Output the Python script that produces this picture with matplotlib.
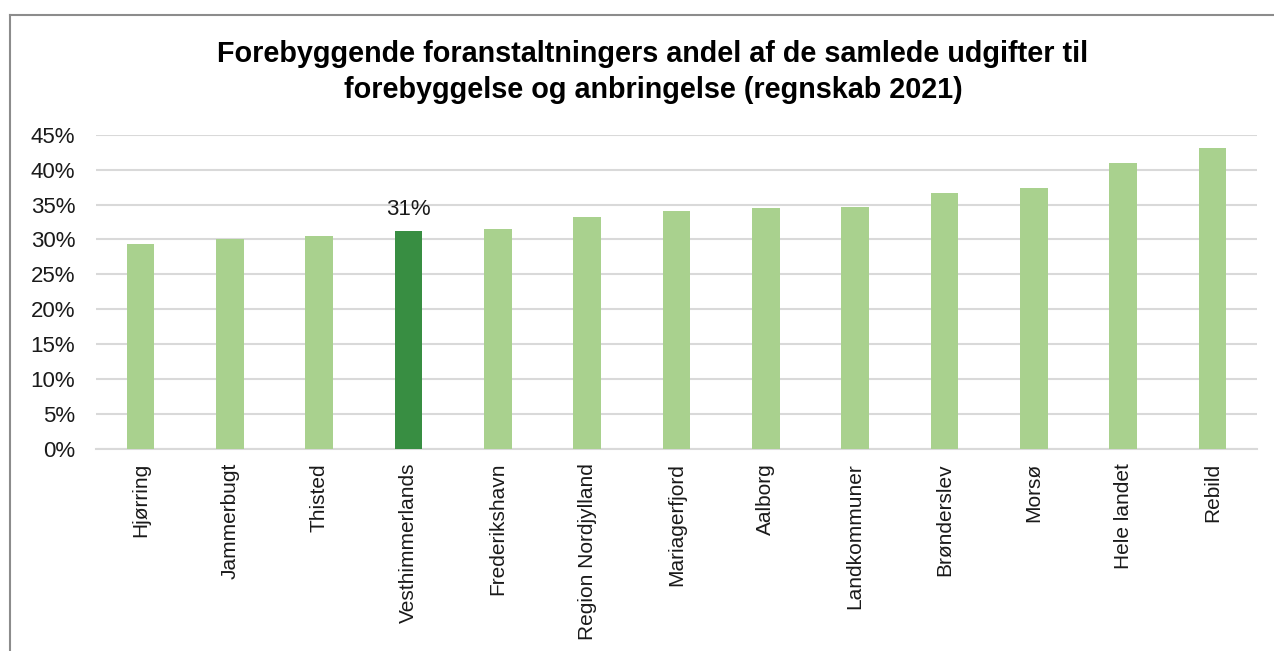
import matplotlib
matplotlib.use("Agg")
import matplotlib.pyplot as plt
from matplotlib.lines import Line2D
from matplotlib.ticker import FuncFormatter, MultipleLocator

categories = ["Hjørring", "Jammerbugt", "Thisted", "Vesthimmerlands", "Frederikshavn",
              "Region Nordjylland", "Mariagerfjord", "Aalborg", "Landkommuner",
              "Brønderslev", "Morsø", "Hele landet", "Rebild"]
values = [0.293, 0.301, 0.305, 0.312, 0.315, 0.332, 0.341, 0.345, 0.347,
          0.366, 0.373, 0.409, 0.431]
highlight = "Vesthimmerlands"
highlight_label = "31%"
title = "Forebyggende foranstaltningers andel af de samlede udgifter til\nforebyggelse og anbringelse (regnskab 2021)"

plt.rcParams['font.family'] = ['Liberation Sans', 'DejaVu Sans']

W, H = 1274, 651
fig = plt.figure(figsize=(W / 100, H / 100), dpi=100)
ax = fig.add_axes([96 / W, 1 - 449 / H, (1257 - 96) / W, (449 - 134.7) / H])

light = "#A9D18E"
dark = "#388E42"
colors = [dark if c == highlight else light for c in categories]
x = list(range(len(categories)))
bars = ax.bar(x, values, width=0.31, color=colors, zorder=3)

hi = categories.index(highlight)
ax.annotate(highlight_label, (hi, values[hi]), xytext=(0, 8), textcoords="offset points",
            ha="center", va="bottom", fontsize=16, color="#1a1a1a")

ax.set_xlim(-0.5, len(categories) - 0.5)
ax.set_ylim(0, 0.45)
ax.yaxis.set_major_locator(MultipleLocator(0.05))
ax.yaxis.set_major_formatter(FuncFormatter(lambda v, p: f"{v*100:.0f}%"))
ax.grid(axis="y", color="#D9D9D9", linewidth=1.5, zorder=0)
for s in ["top", "right", "left"]:
    ax.spines[s].set_visible(False)
ax.spines["bottom"].set_color("#D9D9D9")
ax.spines["bottom"].set_linewidth(1.5)
ax.tick_params(axis="y", length=0, labelsize=16, pad=15, labelcolor="#1a1a1a")
ax.tick_params(axis="x", length=0, labelsize=15, pad=10, labelcolor="#1a1a1a")
ax.set_xticks(x)
ax.set_xticklabels(categories, rotation=90, va="top", ha="center")

fig.text(653 / W, 1 - 72 / H, title, ha="center", va="center", fontsize=20.7,
         fontweight="bold", linespacing=1.4, color="black")

# outer frame (top and left visible)
fig.add_artist(Line2D([10 / W, 1], [1 - 15 / H, 1 - 15 / H], transform=fig.transFigure,
                      color="#8C8C8C", linewidth=1.5))
fig.add_artist(Line2D([10 / W, 10 / W], [0, 1 - 15 / H], transform=fig.transFigure,
                      color="#8C8C8C", linewidth=1.5))

fig.savefig("out.png", dpi=100, facecolor="white")
